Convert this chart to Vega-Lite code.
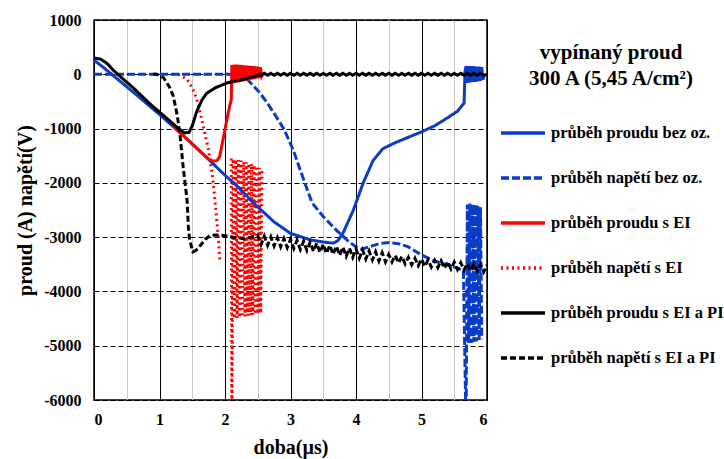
{
  "$schema": "https://vega.github.io/schema/vega-lite/v6.json",
  "autosize": {"type": "none"},
  "padding": {"left": 94, "top": 20, "right": 237, "bottom": 59},
  "width": 393,
  "height": 380,
  "background": "white",
  "config": {
    "view": {"stroke": "black", "strokeWidth": 1.5},
    "font": "Liberation Serif"
  },
  "data": {"values": [
    {"s":"průběh napětí s EI","g":1,"t":1.2,"v":0},
    {"s":"průběh napětí s EI","g":1,"t":1.3,"v":-10},
    {"s":"průběh napětí s EI","g":1,"t":1.42,"v":-90},
    {"s":"průběh napětí s EI","g":1,"t":1.5,"v":-250},
    {"s":"průběh napětí s EI","g":1,"t":1.57,"v":-460},
    {"s":"průběh napětí s EI","g":1,"t":1.67,"v":-960},
    {"s":"průběh napětí s EI","g":1,"t":1.75,"v":-1400},
    {"s":"průběh napětí s EI","g":1,"t":1.8,"v":-1800},
    {"s":"průběh napětí s EI","g":1,"t":1.82,"v":-2000},
    {"s":"průběh napětí s EI","g":1,"t":1.87,"v":-2620},
    {"s":"průběh napětí s EI","g":1,"t":1.9,"v":-3050},
    {"s":"průběh napětí s EI","g":1,"t":1.92,"v":-3420},
    {"s":"průběh napětí s EI","g":2,"t":2.095,"v":-1550},
    {"s":"průběh napětí s EI","g":2,"t":2.105,"v":-6500},
    {"s":"průběh napětí s EI","g":2,"t":2.125,"v":-1560},
    {"s":"průběh napětí s EI","g":2,"t":2.145,"v":-4500},
    {"s":"průběh napětí s EI","g":2,"t":2.165,"v":-1570},
    {"s":"průběh napětí s EI","g":2,"t":2.185,"v":-4490},
    {"s":"průběh napětí s EI","g":2,"t":2.205,"v":-1580},
    {"s":"průběh napětí s EI","g":2,"t":2.225,"v":-4480},
    {"s":"průběh napětí s EI","g":2,"t":2.245,"v":-1590},
    {"s":"průběh napětí s EI","g":2,"t":2.265,"v":-4470},
    {"s":"průběh napětí s EI","g":2,"t":2.285,"v":-1610},
    {"s":"průběh napětí s EI","g":2,"t":2.305,"v":-4460},
    {"s":"průběh napětí s EI","g":2,"t":2.325,"v":-1620},
    {"s":"průběh napětí s EI","g":2,"t":2.345,"v":-4450},
    {"s":"průběh napětí s EI","g":2,"t":2.365,"v":-1640},
    {"s":"průběh napětí s EI","g":2,"t":2.385,"v":-4440},
    {"s":"průběh napětí s EI","g":2,"t":2.405,"v":-1650},
    {"s":"průběh napětí s EI","g":2,"t":2.425,"v":-4430},
    {"s":"průběh napětí s EI","g":2,"t":2.445,"v":-1670},
    {"s":"průběh napětí s EI","g":2,"t":2.465,"v":-4420},
    {"s":"průběh napětí s EI","g":2,"t":2.485,"v":-1690},
    {"s":"průběh napětí s EI","g":2,"t":2.505,"v":-4410},
    {"s":"průběh napětí s EI","g":2,"t":2.525,"v":-1720},
    {"s":"průběh napětí s EI","g":2,"t":2.545,"v":-4400},
    {"s":"průběh napětí s EI","g":2,"t":2.565,"v":-1760},

    {"s":"průběh napětí bez oz.","g":1,"t":0,"v":0},
    {"s":"průběh napětí bez oz.","g":1,"t":2.2,"v":0},
    {"s":"průběh napětí bez oz.","g":1,"t":2.3,"v":-40},
    {"s":"průběh napětí bez oz.","g":1,"t":2.4,"v":-170},
    {"s":"průběh napětí bez oz.","g":1,"t":2.53,"v":-340},
    {"s":"průběh napětí bez oz.","g":1,"t":2.64,"v":-520},
    {"s":"průběh napětí bez oz.","g":1,"t":2.74,"v":-700},
    {"s":"průběh napětí bez oz.","g":1,"t":2.9,"v":-1010},
    {"s":"průběh napětí bez oz.","g":1,"t":3.04,"v":-1390},
    {"s":"průběh napětí bez oz.","g":1,"t":3.2,"v":-1940},
    {"s":"průběh napětí bez oz.","g":1,"t":3.33,"v":-2370},
    {"s":"průběh napětí bez oz.","g":1,"t":3.5,"v":-2620},
    {"s":"průběh napětí bez oz.","g":1,"t":3.7,"v":-2870},
    {"s":"průběh napětí bez oz.","g":1,"t":3.86,"v":-3050},
    {"s":"průběh napětí bez oz.","g":1,"t":4.0,"v":-3180},
    {"s":"průběh napětí bez oz.","g":1,"t":4.08,"v":-3220},
    {"s":"průběh napětí bez oz.","g":1,"t":4.2,"v":-3180},
    {"s":"průběh napětí bez oz.","g":1,"t":4.35,"v":-3120},
    {"s":"průběh napětí bez oz.","g":1,"t":4.5,"v":-3100},
    {"s":"průběh napětí bez oz.","g":1,"t":4.65,"v":-3120},
    {"s":"průběh napětí bez oz.","g":1,"t":4.8,"v":-3180},
    {"s":"průběh napětí bez oz.","g":1,"t":5.0,"v":-3330},
    {"s":"průběh napětí bez oz.","g":1,"t":5.2,"v":-3440},
    {"s":"průběh napětí bez oz.","g":1,"t":5.4,"v":-3520},
    {"s":"průběh napětí bez oz.","g":1,"t":5.55,"v":-3570},
    {"s":"průběh napětí bez oz.","g":1,"t":5.64,"v":-3620},
    {"s":"průběh napětí bez oz.","g":1,"t":5.68,"v":-6500},
    {"s":"průběh napětí bez oz.","g":1,"t":5.7,"v":-2400},
    {"s":"průběh napětí bez oz.","g":1,"t":5.72,"v":-4950},
    {"s":"průběh napětí bez oz.","g":1,"t":5.74,"v":-2380},
    {"s":"průběh napětí bez oz.","g":1,"t":5.76,"v":-4950},
    {"s":"průběh napětí bez oz.","g":1,"t":5.78,"v":-2400},
    {"s":"průběh napětí bez oz.","g":1,"t":5.8,"v":-4930},
    {"s":"průběh napětí bez oz.","g":1,"t":5.82,"v":-2400},
    {"s":"průběh napětí bez oz.","g":1,"t":5.84,"v":-4920},
    {"s":"průběh napětí bez oz.","g":1,"t":5.86,"v":-2420},
    {"s":"průběh napětí bez oz.","g":1,"t":5.88,"v":-4900},
    {"s":"průběh napětí bez oz.","g":1,"t":5.9,"v":-2450},
    {"s":"průběh napětí bez oz.","g":1,"t":5.92,"v":-4880},

    {"s":"průběh proudu bez oz.","g":1,"t":0,"v":260},
    {"s":"průběh proudu bez oz.","g":1,"t":0.15,"v":120},
    {"s":"průběh proudu bez oz.","g":1,"t":0.27,"v":0},
    {"s":"průběh proudu bez oz.","g":1,"t":0.6,"v":-330},
    {"s":"průběh proudu bez oz.","g":1,"t":1.0,"v":-740},
    {"s":"průběh proudu bez oz.","g":1,"t":1.31,"v":-1070},
    {"s":"průběh proudu bez oz.","g":1,"t":1.62,"v":-1420},
    {"s":"průběh proudu bez oz.","g":1,"t":1.82,"v":-1650},
    {"s":"průběh proudu bez oz.","g":1,"t":2.0,"v":-1860},
    {"s":"průběh proudu bez oz.","g":1,"t":2.15,"v":-2020},
    {"s":"průběh proudu bez oz.","g":1,"t":2.48,"v":-2420},
    {"s":"průběh proudu bez oz.","g":1,"t":2.75,"v":-2720},
    {"s":"průběh proudu bez oz.","g":1,"t":3.0,"v":-2930},
    {"s":"průběh proudu bez oz.","g":1,"t":3.3,"v":-3050},
    {"s":"průběh proudu bez oz.","g":1,"t":3.5,"v":-3090},
    {"s":"průběh proudu bez oz.","g":1,"t":3.65,"v":-3110},
    {"s":"průběh proudu bez oz.","g":1,"t":3.72,"v":-3070},
    {"s":"průběh proudu bez oz.","g":1,"t":3.8,"v":-2930},
    {"s":"průběh proudu bez oz.","g":1,"t":3.96,"v":-2500},
    {"s":"průběh proudu bez oz.","g":1,"t":4.11,"v":-2000},
    {"s":"průběh proudu bez oz.","g":1,"t":4.26,"v":-1590},
    {"s":"průběh proudu bez oz.","g":1,"t":4.41,"v":-1370},
    {"s":"průběh proudu bez oz.","g":1,"t":4.6,"v":-1260},
    {"s":"průběh proudu bez oz.","g":1,"t":4.8,"v":-1160},
    {"s":"průběh proudu bez oz.","g":1,"t":5.0,"v":-1060},
    {"s":"průběh proudu bez oz.","g":1,"t":5.2,"v":-950},
    {"s":"průběh proudu bez oz.","g":1,"t":5.4,"v":-800},
    {"s":"průběh proudu bez oz.","g":1,"t":5.55,"v":-680},
    {"s":"průběh proudu bez oz.","g":1,"t":5.65,"v":-530},
    {"s":"průběh proudu bez oz.","g":1,"t":5.665,"v":60},
    {"s":"průběh proudu bez oz.","g":1,"t":5.68,"v":150},
    {"s":"průběh proudu bez oz.","g":1,"t":5.7,"v":-160},
    {"s":"průběh proudu bez oz.","g":1,"t":5.72,"v":150},
    {"s":"průběh proudu bez oz.","g":1,"t":5.74,"v":-150},
    {"s":"průběh proudu bez oz.","g":1,"t":5.76,"v":150},
    {"s":"průběh proudu bez oz.","g":1,"t":5.78,"v":-140},
    {"s":"průběh proudu bez oz.","g":1,"t":5.8,"v":150},
    {"s":"průběh proudu bez oz.","g":1,"t":5.82,"v":-140},
    {"s":"průběh proudu bez oz.","g":1,"t":5.84,"v":140},
    {"s":"průběh proudu bez oz.","g":1,"t":5.86,"v":-130},
    {"s":"průběh proudu bez oz.","g":1,"t":5.88,"v":140},
    {"s":"průběh proudu bez oz.","g":1,"t":5.9,"v":-120},
    {"s":"průběh proudu bez oz.","g":1,"t":5.92,"v":130},
    {"s":"průběh proudu bez oz.","g":1,"t":5.94,"v":-100},
    {"s":"průběh proudu bez oz.","g":1,"t":5.96,"v":0},

    {"s":"průběh proudu s EI","g":1,"t":1.2,"v":-950},
    {"s":"průběh proudu s EI","g":1,"t":1.31,"v":-1070},
    {"s":"průběh proudu s EI","g":1,"t":1.62,"v":-1420},
    {"s":"průběh proudu s EI","g":1,"t":1.75,"v":-1560},
    {"s":"průběh proudu s EI","g":1,"t":1.82,"v":-1600},
    {"s":"průběh proudu s EI","g":1,"t":1.88,"v":-1590},
    {"s":"průběh proudu s EI","g":1,"t":1.92,"v":-1510},
    {"s":"průběh proudu s EI","g":1,"t":1.97,"v":-1200},
    {"s":"průběh proudu s EI","g":1,"t":2.02,"v":-890},
    {"s":"průběh proudu s EI","g":1,"t":2.07,"v":-590},
    {"s":"průběh proudu s EI","g":1,"t":2.095,"v":-470},
    {"s":"průběh proudu s EI","g":1,"t":2.105,"v":170},
    {"s":"průběh proudu s EI","g":1,"t":2.12,"v":-170},
    {"s":"průběh proudu s EI","g":1,"t":2.14,"v":180},
    {"s":"průběh proudu s EI","g":1,"t":2.16,"v":-160},
    {"s":"průběh proudu s EI","g":1,"t":2.18,"v":180},
    {"s":"průběh proudu s EI","g":1,"t":2.2,"v":-150},
    {"s":"průběh proudu s EI","g":1,"t":2.22,"v":175},
    {"s":"průběh proudu s EI","g":1,"t":2.24,"v":-140},
    {"s":"průběh proudu s EI","g":1,"t":2.26,"v":170},
    {"s":"průběh proudu s EI","g":1,"t":2.28,"v":-130},
    {"s":"průběh proudu s EI","g":1,"t":2.3,"v":165},
    {"s":"průběh proudu s EI","g":1,"t":2.32,"v":-120},
    {"s":"průběh proudu s EI","g":1,"t":2.34,"v":160},
    {"s":"průběh proudu s EI","g":1,"t":2.36,"v":-110},
    {"s":"průběh proudu s EI","g":1,"t":2.38,"v":155},
    {"s":"průběh proudu s EI","g":1,"t":2.4,"v":-100},
    {"s":"průběh proudu s EI","g":1,"t":2.42,"v":150},
    {"s":"průběh proudu s EI","g":1,"t":2.44,"v":-90},
    {"s":"průběh proudu s EI","g":1,"t":2.46,"v":145},
    {"s":"průběh proudu s EI","g":1,"t":2.48,"v":-80},
    {"s":"průběh proudu s EI","g":1,"t":2.5,"v":140},
    {"s":"průběh proudu s EI","g":1,"t":2.52,"v":-70},
    {"s":"průběh proudu s EI","g":1,"t":2.54,"v":130},
    {"s":"průběh proudu s EI","g":1,"t":2.56,"v":-40},
    {"s":"průběh proudu s EI","g":1,"t":2.58,"v":0},

    {"s":"průběh napětí s EI a PI","g":1,"t":0.9,"v":0},
    {"s":"průběh napětí s EI a PI","g":1,"t":0.96,"v":0},
    {"s":"průběh napětí s EI a PI","g":1,"t":1.06,"v":-60},
    {"s":"průběh napětí s EI a PI","g":1,"t":1.15,"v":-230},
    {"s":"průběh napětí s EI a PI","g":1,"t":1.21,"v":-400},
    {"s":"průběh napětí s EI a PI","g":1,"t":1.27,"v":-750},
    {"s":"průběh napětí s EI a PI","g":1,"t":1.31,"v":-1080},
    {"s":"průběh napětí s EI a PI","g":1,"t":1.36,"v":-1690},
    {"s":"průběh napětí s EI a PI","g":1,"t":1.42,"v":-2310},
    {"s":"průběh napětí s EI a PI","g":1,"t":1.44,"v":-2800},
    {"s":"průběh napětí s EI a PI","g":1,"t":1.46,"v":-3050},
    {"s":"průběh napětí s EI a PI","g":1,"t":1.51,"v":-3270},
    {"s":"průběh napětí s EI a PI","g":1,"t":1.56,"v":-3240},
    {"s":"průběh napětí s EI a PI","g":1,"t":1.62,"v":-3160},
    {"s":"průběh napětí s EI a PI","g":1,"t":1.7,"v":-3040},
    {"s":"průběh napětí s EI a PI","g":1,"t":1.77,"v":-2970},
    {"s":"průběh napětí s EI a PI","g":1,"t":1.92,"v":-2960},
    {"s":"průběh napětí s EI a PI","g":1,"t":2.12,"v":-3000},
    {"s":"průběh napětí s EI a PI","g":1,"t":2.3,"v":-3030},
    {"s":"průběh napětí s EI a PI","g":1,"t":2.5,"v":-2970},
    {"s":"průběh napětí s EI a PI","g":1,"t":2.55,"v":-3137},
    {"s":"průběh napětí s EI a PI","g":1,"t":2.6,"v":-2984},
    {"s":"průběh napětí s EI a PI","g":1,"t":2.65,"v":-3151},
    {"s":"průběh napětí s EI a PI","g":1,"t":2.7,"v":-2998},
    {"s":"průběh napětí s EI a PI","g":1,"t":2.75,"v":-3165},
    {"s":"průběh napětí s EI a PI","g":1,"t":2.8,"v":-3012},
    {"s":"průběh napětí s EI a PI","g":1,"t":2.85,"v":-3179},
    {"s":"průběh napětí s EI a PI","g":1,"t":2.9,"v":-3026},
    {"s":"průběh napětí s EI a PI","g":1,"t":2.95,"v":-3193},
    {"s":"průběh napětí s EI a PI","g":1,"t":3.0,"v":-3040},
    {"s":"průběh napětí s EI a PI","g":1,"t":3.05,"v":-3209},
    {"s":"průběh napětí s EI a PI","g":1,"t":3.1,"v":-3058},
    {"s":"průběh napětí s EI a PI","g":1,"t":3.15,"v":-3227},
    {"s":"průběh napětí s EI a PI","g":1,"t":3.2,"v":-3076},
    {"s":"průběh napětí s EI a PI","g":1,"t":3.25,"v":-3245},
    {"s":"průběh napětí s EI a PI","g":1,"t":3.3,"v":-3094},
    {"s":"průběh napětí s EI a PI","g":1,"t":3.35,"v":-3263},
    {"s":"průběh napětí s EI a PI","g":1,"t":3.4,"v":-3112},
    {"s":"průběh napětí s EI a PI","g":1,"t":3.45,"v":-3281},
    {"s":"průběh napětí s EI a PI","g":1,"t":3.5,"v":-3130},
    {"s":"průběh napětí s EI a PI","g":1,"t":3.55,"v":-3299},
    {"s":"průběh napětí s EI a PI","g":1,"t":3.6,"v":-3148},
    {"s":"průběh napětí s EI a PI","g":1,"t":3.65,"v":-3317},
    {"s":"průběh napětí s EI a PI","g":1,"t":3.7,"v":-3166},
    {"s":"průběh napětí s EI a PI","g":1,"t":3.75,"v":-3335},
    {"s":"průběh napětí s EI a PI","g":1,"t":3.8,"v":-3184},
    {"s":"průběh napětí s EI a PI","g":1,"t":3.85,"v":-3353},
    {"s":"průběh napětí s EI a PI","g":1,"t":3.9,"v":-3202},
    {"s":"průběh napětí s EI a PI","g":1,"t":3.95,"v":-3371},
    {"s":"průběh napětí s EI a PI","g":1,"t":4.0,"v":-3220},
    {"s":"průběh napětí s EI a PI","g":1,"t":4.05,"v":-3388},
    {"s":"průběh napětí s EI a PI","g":1,"t":4.1,"v":-3237},
    {"s":"průběh napětí s EI a PI","g":1,"t":4.15,"v":-3405},
    {"s":"průběh napětí s EI a PI","g":1,"t":4.2,"v":-3254},
    {"s":"průběh napětí s EI a PI","g":1,"t":4.25,"v":-3422},
    {"s":"průběh napětí s EI a PI","g":1,"t":4.3,"v":-3271},
    {"s":"průběh napětí s EI a PI","g":1,"t":4.35,"v":-3439},
    {"s":"průběh napětí s EI a PI","g":1,"t":4.4,"v":-3288},
    {"s":"průběh napětí s EI a PI","g":1,"t":4.45,"v":-3456},
    {"s":"průběh napětí s EI a PI","g":1,"t":4.5,"v":-3320},
    {"s":"průběh napětí s EI a PI","g":1,"t":4.55,"v":-3458},
    {"s":"průběh napětí s EI a PI","g":1,"t":4.6,"v":-3337},
    {"s":"průběh napětí s EI a PI","g":1,"t":4.65,"v":-3475},
    {"s":"průběh napětí s EI a PI","g":1,"t":4.7,"v":-3354},
    {"s":"průběh napětí s EI a PI","g":1,"t":4.75,"v":-3492},
    {"s":"průběh napětí s EI a PI","g":1,"t":4.8,"v":-3371},
    {"s":"průběh napětí s EI a PI","g":1,"t":4.85,"v":-3509},
    {"s":"průběh napětí s EI a PI","g":1,"t":4.9,"v":-3388},
    {"s":"průběh napětí s EI a PI","g":1,"t":4.95,"v":-3526},
    {"s":"průběh napětí s EI a PI","g":1,"t":5.0,"v":-3405},
    {"s":"průběh napětí s EI a PI","g":1,"t":5.05,"v":-3540},
    {"s":"průběh napětí s EI a PI","g":1,"t":5.1,"v":-3416},
    {"s":"průběh napětí s EI a PI","g":1,"t":5.15,"v":-3551},
    {"s":"průběh napětí s EI a PI","g":1,"t":5.2,"v":-3427},
    {"s":"průběh napětí s EI a PI","g":1,"t":5.25,"v":-3562},
    {"s":"průběh napětí s EI a PI","g":1,"t":5.3,"v":-3438},
    {"s":"průběh napětí s EI a PI","g":1,"t":5.35,"v":-3573},
    {"s":"průběh napětí s EI a PI","g":1,"t":5.4,"v":-3449},
    {"s":"průběh napětí s EI a PI","g":1,"t":5.45,"v":-3584},
    {"s":"průběh napětí s EI a PI","g":1,"t":5.5,"v":-3460},
    {"s":"průběh napětí s EI a PI","g":1,"t":5.55,"v":-3595},
    {"s":"průběh napětí s EI a PI","g":1,"t":5.6,"v":-3471},
    {"s":"průběh napětí s EI a PI","g":1,"t":5.65,"v":-3606},
    {"s":"průběh napětí s EI a PI","g":1,"t":5.7,"v":-3482},
    {"s":"průběh napětí s EI a PI","g":1,"t":5.75,"v":-3617},
    {"s":"průběh napětí s EI a PI","g":1,"t":5.8,"v":-3493},
    {"s":"průběh napětí s EI a PI","g":1,"t":5.85,"v":-3628},
    {"s":"průběh napětí s EI a PI","g":1,"t":5.9,"v":-3504},
    {"s":"průběh napětí s EI a PI","g":1,"t":5.95,"v":-3639},
    {"s":"průběh napětí s EI a PI","g":1,"t":6.0,"v":-3515},

    {"s":"průběh proudu s EI a PI","g":1,"t":0,"v":300},
    {"s":"průběh proudu s EI a PI","g":1,"t":0.1,"v":280},
    {"s":"průběh proudu s EI a PI","g":1,"t":0.2,"v":200},
    {"s":"průběh proudu s EI a PI","g":1,"t":0.3,"v":70},
    {"s":"průběh proudu s EI a PI","g":1,"t":0.4,"v":-40},
    {"s":"průběh proudu s EI a PI","g":1,"t":0.6,"v":-250},
    {"s":"průběh proudu s EI a PI","g":1,"t":0.85,"v":-540},
    {"s":"průběh proudu s EI a PI","g":1,"t":1.1,"v":-800},
    {"s":"průběh proudu s EI a PI","g":1,"t":1.3,"v":-1010},
    {"s":"průběh proudu s EI a PI","g":1,"t":1.38,"v":-1080},
    {"s":"průběh proudu s EI a PI","g":1,"t":1.45,"v":-1070},
    {"s":"průběh proudu s EI a PI","g":1,"t":1.5,"v":-950},
    {"s":"průběh proudu s EI a PI","g":1,"t":1.57,"v":-680},
    {"s":"průběh proudu s EI a PI","g":1,"t":1.65,"v":-470},
    {"s":"průběh proudu s EI a PI","g":1,"t":1.72,"v":-350},
    {"s":"průběh proudu s EI a PI","g":1,"t":1.85,"v":-250},
    {"s":"průběh proudu s EI a PI","g":1,"t":2.03,"v":-160},
    {"s":"průběh proudu s EI a PI","g":1,"t":2.2,"v":-110},
    {"s":"průběh proudu s EI a PI","g":1,"t":2.33,"v":-80},
    {"s":"průběh proudu s EI a PI","g":1,"t":2.45,"v":-40},
    {"s":"průběh proudu s EI a PI","g":1,"t":2.53,"v":0},
    {"s":"průběh proudu s EI a PI","g":1,"t":2.55,"v":-18},
    {"s":"průběh proudu s EI a PI","g":1,"t":2.6,"v":18},
    {"s":"průběh proudu s EI a PI","g":1,"t":2.65,"v":-18},
    {"s":"průběh proudu s EI a PI","g":1,"t":2.7,"v":18},
    {"s":"průběh proudu s EI a PI","g":1,"t":2.75,"v":-18},
    {"s":"průběh proudu s EI a PI","g":1,"t":2.8,"v":18},
    {"s":"průběh proudu s EI a PI","g":1,"t":2.85,"v":-18},
    {"s":"průběh proudu s EI a PI","g":1,"t":2.9,"v":18},
    {"s":"průběh proudu s EI a PI","g":1,"t":2.95,"v":-18},
    {"s":"průběh proudu s EI a PI","g":1,"t":3.0,"v":18},
    {"s":"průběh proudu s EI a PI","g":1,"t":3.05,"v":-18},
    {"s":"průběh proudu s EI a PI","g":1,"t":3.1,"v":18},
    {"s":"průběh proudu s EI a PI","g":1,"t":3.15,"v":-18},
    {"s":"průběh proudu s EI a PI","g":1,"t":3.2,"v":18},
    {"s":"průběh proudu s EI a PI","g":1,"t":3.25,"v":-18},
    {"s":"průběh proudu s EI a PI","g":1,"t":3.3,"v":18},
    {"s":"průběh proudu s EI a PI","g":1,"t":3.35,"v":-18},
    {"s":"průběh proudu s EI a PI","g":1,"t":3.4,"v":18},
    {"s":"průběh proudu s EI a PI","g":1,"t":3.45,"v":-18},
    {"s":"průběh proudu s EI a PI","g":1,"t":3.5,"v":18},
    {"s":"průběh proudu s EI a PI","g":1,"t":3.55,"v":-18},
    {"s":"průběh proudu s EI a PI","g":1,"t":3.6,"v":18},
    {"s":"průběh proudu s EI a PI","g":1,"t":3.65,"v":-18},
    {"s":"průběh proudu s EI a PI","g":1,"t":3.7,"v":18},
    {"s":"průběh proudu s EI a PI","g":1,"t":3.75,"v":-18},
    {"s":"průběh proudu s EI a PI","g":1,"t":3.8,"v":18},
    {"s":"průběh proudu s EI a PI","g":1,"t":3.85,"v":-18},
    {"s":"průběh proudu s EI a PI","g":1,"t":3.9,"v":18},
    {"s":"průběh proudu s EI a PI","g":1,"t":3.95,"v":-18},
    {"s":"průběh proudu s EI a PI","g":1,"t":4.0,"v":18},
    {"s":"průběh proudu s EI a PI","g":1,"t":4.05,"v":-18},
    {"s":"průběh proudu s EI a PI","g":1,"t":4.1,"v":18},
    {"s":"průběh proudu s EI a PI","g":1,"t":4.15,"v":-18},
    {"s":"průběh proudu s EI a PI","g":1,"t":4.2,"v":18},
    {"s":"průběh proudu s EI a PI","g":1,"t":4.25,"v":-18},
    {"s":"průběh proudu s EI a PI","g":1,"t":4.3,"v":18},
    {"s":"průběh proudu s EI a PI","g":1,"t":4.35,"v":-18},
    {"s":"průběh proudu s EI a PI","g":1,"t":4.4,"v":18},
    {"s":"průběh proudu s EI a PI","g":1,"t":4.45,"v":-18},
    {"s":"průběh proudu s EI a PI","g":1,"t":4.5,"v":18},
    {"s":"průběh proudu s EI a PI","g":1,"t":4.55,"v":-18},
    {"s":"průběh proudu s EI a PI","g":1,"t":4.6,"v":18},
    {"s":"průběh proudu s EI a PI","g":1,"t":4.65,"v":-18},
    {"s":"průběh proudu s EI a PI","g":1,"t":4.7,"v":18},
    {"s":"průběh proudu s EI a PI","g":1,"t":4.75,"v":-18},
    {"s":"průběh proudu s EI a PI","g":1,"t":4.8,"v":18},
    {"s":"průběh proudu s EI a PI","g":1,"t":4.85,"v":-18},
    {"s":"průběh proudu s EI a PI","g":1,"t":4.9,"v":18},
    {"s":"průběh proudu s EI a PI","g":1,"t":4.95,"v":-18},
    {"s":"průběh proudu s EI a PI","g":1,"t":5.0,"v":18},
    {"s":"průběh proudu s EI a PI","g":1,"t":5.05,"v":-18},
    {"s":"průběh proudu s EI a PI","g":1,"t":5.1,"v":18},
    {"s":"průběh proudu s EI a PI","g":1,"t":5.15,"v":-18},
    {"s":"průběh proudu s EI a PI","g":1,"t":5.2,"v":18},
    {"s":"průběh proudu s EI a PI","g":1,"t":5.25,"v":-18},
    {"s":"průběh proudu s EI a PI","g":1,"t":5.3,"v":18},
    {"s":"průběh proudu s EI a PI","g":1,"t":5.35,"v":-18},
    {"s":"průběh proudu s EI a PI","g":1,"t":5.4,"v":18},
    {"s":"průběh proudu s EI a PI","g":1,"t":5.45,"v":-18},
    {"s":"průběh proudu s EI a PI","g":1,"t":5.5,"v":18},
    {"s":"průběh proudu s EI a PI","g":1,"t":5.55,"v":-18},
    {"s":"průběh proudu s EI a PI","g":1,"t":5.6,"v":18},
    {"s":"průběh proudu s EI a PI","g":1,"t":5.65,"v":-18},
    {"s":"průběh proudu s EI a PI","g":1,"t":5.7,"v":18},
    {"s":"průběh proudu s EI a PI","g":1,"t":5.75,"v":-18},
    {"s":"průběh proudu s EI a PI","g":1,"t":5.8,"v":18},
    {"s":"průběh proudu s EI a PI","g":1,"t":5.85,"v":-18},
    {"s":"průběh proudu s EI a PI","g":1,"t":5.9,"v":18},
    {"s":"průběh proudu s EI a PI","g":1,"t":5.95,"v":-18},
    {"s":"průběh proudu s EI a PI","g":1,"t":6.0,"v":0}
  ]},
  "mark": {"type": "line", "clip": true, "strokeWidth": 3},
  "encoding": {
    "x": {
      "field": "t", "type": "quantitative",
      "scale": {"domain": [0, 6], "nice": false, "zero": false},
      "axis": {
        "title": "doba(µs)",
        "values": [0, 0.5, 1, 1.5, 2, 2.5, 3, 3.5, 4, 4.5, 5, 5.5, 6],
        "labelExpr": "datum.value % 1 === 0 ? '' + datum.value : ''",
        "grid": true,
        "gridColor": {"condition": {"test": "datum.value % 1 !== 0", "value": "#c8c8c8"}, "value": "#000000"},
        "gridWidth": 1,
        "ticks": false,
        "domain": false,
        "labelFont": "Liberation Serif",
        "labelFontSize": 16,
        "labelFontWeight": "bold",
        "labelColor": "black",
        "labelPadding": 11,
        "titleFont": "Liberation Serif",
        "titleFontSize": 20,
        "titleFontWeight": "bold",
        "titleColor": "black",
        "titlePadding": 10
      }
    },
    "y": {
      "field": "v", "type": "quantitative",
      "scale": {"domain": [-6000, 1000], "nice": false, "zero": false},
      "axis": {
        "title": "proud (A) napětí(V)",
        "values": [-6000, -5000, -4000, -3000, -2000, -1000, 0, 1000],
        "labelExpr": "'' + datum.value",
        "grid": true,
        "gridColor": "black",
        "gridDash": [5, 3],
        "gridWidth": 1.2,
        "ticks": false,
        "domain": false,
        "labelFont": "Liberation Serif",
        "labelFontSize": 16,
        "labelFontWeight": "bold",
        "labelColor": "black",
        "labelPadding": 13,
        "titleFont": "Liberation Serif",
        "titleFontSize": 20,
        "titleFontWeight": "bold",
        "titleColor": "black",
        "titlePadding": 8
      }
    },
    "color": {
      "field": "s", "type": "nominal",
      "scale": {
        "domain": ["průběh proudu bez oz.", "průběh napětí bez oz.", "průběh proudu s EI", "průběh napětí s EI", "průběh proudu s EI a PI", "průběh napětí s EI a PI"],
        "range": ["#0A3CC8", "#0A3CC8", "#FF0000", "#FF0000", "#000000", "#000000"]
      },
      "legend": {
        "orient": "none",
        "legendX": 405,
        "legendY": 22,
        "direction": "vertical",
        "title": ["vypínaný proud", "300 A (5,45 A/cm²)"],
        "titleFont": "Liberation Serif",
        "titleFontSize": 21,
        "titleFontWeight": "bold",
        "titleColor": "black",
        "titleAlign": "center",
        "titleAnchor": "middle",
        "titleLineHeight": 26,
        "titlePadding": 20,
        "labelFont": "Liberation Serif",
        "labelFontSize": 16.5,
        "labelFontWeight": "bold",
        "labelColor": "black",
        "labelOffset": 4,
        "labelLimit": 300,
        "symbolType": "stroke",
        "symbolSize": 1936,
        "symbolStrokeWidth": 3.5,
        "rowPadding": 12
      }
    },
    "strokeDash": {
      "field": "s", "type": "nominal",
      "scale": {
        "domain": ["průběh proudu bez oz.", "průběh napětí bez oz.", "průběh proudu s EI", "průběh napětí s EI", "průběh proudu s EI a PI", "průběh napětí s EI a PI"],
        "range": [[1, 0], [8, 3], [1, 0], [2, 3.5], [1, 0], [6, 3]]
      }
    },
    "detail": {"field": "g", "type": "nominal"}
  }
}
